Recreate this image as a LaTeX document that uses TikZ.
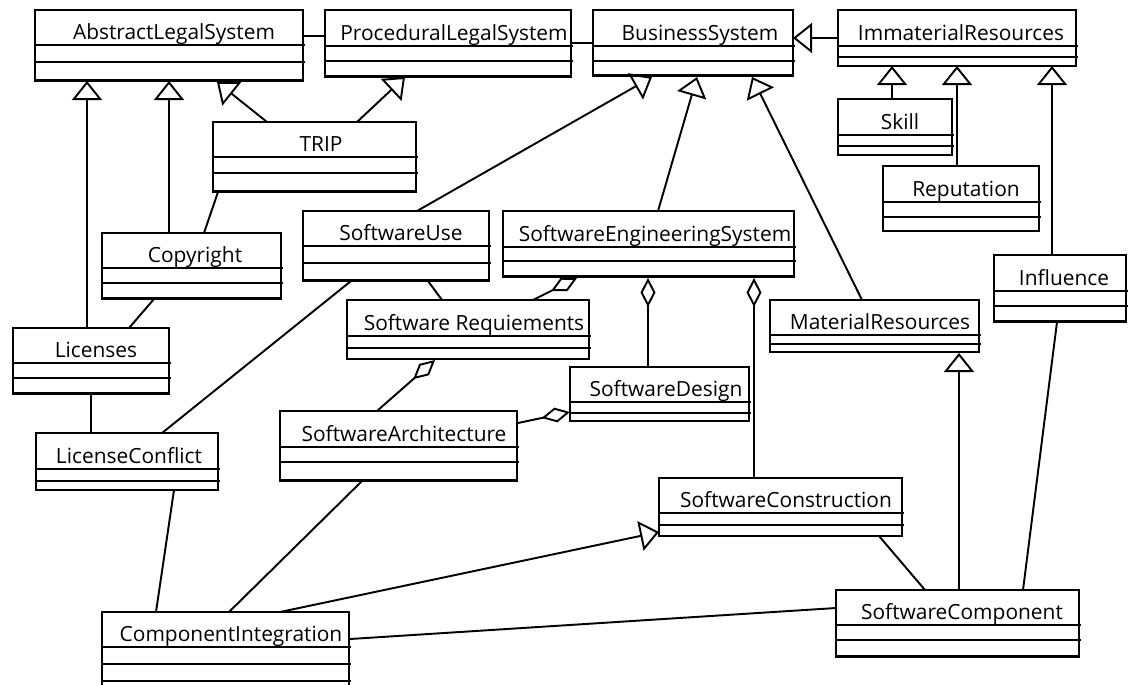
\documentclass[tikz,border=0pt]{standalone}
\usepackage{fontspec}
\setmainfont{Open Sans}
\usetikzlibrary{arrows.meta,calc}

\tikzset{
  x={(0.02cm,0)}, y={(0,-0.02cm)},
  cls/.style={draw, rectangle, line width=1.1pt, inner sep=0pt, outer sep=0pt, fill=white},
  part/.style={line width=1.1pt},
  thickbot/.style={line width=2.2pt},
  title/.style={font=\fontsize{11.9}{14}\selectfont, inner sep=0pt},
  link/.style={line width=1.1pt},
  gen/.style={link, -{Triangle[open, length=0.38cm, width=0.6cm]}},
  agg/.style={link, -{Diamond[open, length=0.58cm, width=0.3cm]}},
}

% \umlclass{name}{x1}{y1}{x2}{y2}{divider1}{divider2}{title x}{title}
\newcommand\umlclass[9]{%
  \node[cls, anchor=north west, minimum width={(#4-#2)*0.02cm}, minimum height={(#5-#3)*0.02cm}] (#1) at (#2,#3) {};
  \draw[part] (#2,#6) -- (#4+1.5,#6) (#2,#7) -- (#4+1.5,#7);
  \node[title, anchor=base] (#1-t) at (#8,#6-5.5) {#9};
}
\newcommand\heavybottom[1]{\draw[thickbot] ($(#1.south west)+(0,-0.5)$) -- ($(#1.south east)+(0,-0.5)$);}

\begin{document}
\begin{tikzpicture}
\useasboundingbox (0,0) rectangle (1128,684);

% classes
\umlclass{abs}{35}{10}{303}{81}{45}{62}{174}{AbstractLegalSystem}
\umlclass{proc}{325}{10}{571}{77}{46}{61}{454}{ProceduralLegalSystem}
\umlclass{bus}{593}{10}{793}{76}{46}{61}{700}{BusinessSystem}
\umlclass{imm}{838}{10}{1076}{66}{46}{57}{961}{ImmaterialResources}
\umlclass{skill}{838}{99}{952}{155}{135}{146}{900}{Skill}
\umlclass{rep}{883}{166}{1039}{231}{202}{217}{966}{Reputation}
\umlclass{trip}{213}{122}{416}{192}{157}{173}{321}{TRIP}
\umlclass{copy}{102}{233}{281}{299}{268}{283}{195}{Copyright}
\umlclass{lic}{13}{328}{169}{394}{363}{378}{96}{Licenses}
\umlclass{lc}{36}{433}{218}{490}{469}{481}{129}{LicenseConflict}
\umlclass{use}{303}{211}{489}{281}{246}{263}{401}{SoftwareUse}
\umlclass{ses}{503}{211}{794}{277}{247}{261}{655}{SoftwareEngineeringSystem}
\umlclass{req}{347}{300}{589}{359}{336}{348}{474}{Software Requiements}
\umlclass{des}{570}{367}{749}{421}{402}{413}{666}{SoftwareDesign}
\umlclass{arch}{280}{411}{517}{481}{447}{462}{404}{SoftwareArchitecture}
\umlclass{mat}{770}{300}{979}{352}{335}{344}{880}{MaterialResources}
\umlclass{con}{659}{478}{902}{536}{513}{525}{786}{SoftwareConstruction}
\umlclass{comp}{836}{590}{1079}{657}{625}{640}{962}{SoftwareComponent}
\umlclass{inf}{994}{255}{1126}{322}{291}{306}{1064}{Influence}
% this class runs on past the lower edge of the page
\umlclass{ci}{102}{612}{349}{700}{647}{664}{231}{ComponentIntegration}
\draw[part] ($(ci.north west)+(0,69)$) -- ($(ci.north east)+(1.5,69)$);

\foreach \c in {abs,proc,bus,trip,copy,lic,use,ses,arch,comp,inf} {\heavybottom{\c}}

% plain associations
\draw[link] ($(abs.north east)+(0,26)$) -- ($(proc.north west)+(0,26)$);
\draw[link] ($(proc.north east)+(0,33)$) -- ($(bus.north west)+(0,33)$);
\draw[link] ($(trip.south west)+(5,0)$) -- ($(copy.north west)+(102,0)$);
\draw[link] ($(copy.south west)+(52,0)$) -- ($(lic.north west)+(116,0)$);
\draw[link] ($(lic.south west)+(78,0)$) -- ($(lc.north west)+(55,0)$);
\draw[link] ($(use.south west)+(48,0)$) -- ($(lc.north west)+(126,0)$);
\draw[link] ($(use.south west)+(125,0)$) -- ($(req.north west)+(95,0)$);
\draw[link] ($(lc.south west)+(138,0)$) -- ($(ci.north west)+(54,0)$);
\draw[link] ($(arch.south west)+(82,0)$) -- ($(ci.north west)+(127,0)$);
\draw[link] ($(ci.north east)+(1,27)$) -- ($(comp.north west)+(0,18)$);
\draw[link] ($(con.south west)+(220,0)$) -- ($(comp.north west)+(89,0)$);
\draw[link] ($(inf.south west)+(63,0)$) -- ($(comp.north west)+(187,0)$);

% generalizations
\draw[gen] ($(imm.north west)+(0,28)$) -- ($(bus.north east)+(0,28)$);
\draw[gen] ($(skill.north west)+(54,0)$) -- ($(imm.south west)+(54,0)$);
\draw[gen] ($(rep.north west)+(74,0)$) -- ($(imm.south west)+(119,0)$);
\draw[gen] ($(inf.north west)+(58,0)$) -- ($(imm.south west)+(214,0)$);
\draw[gen] ($(trip.north west)+(54,0)$) -- ($(abs.south west)+(182,1)$);
\draw[gen] ($(trip.north west)+(144,0)$) -- ($(proc.south west)+(80,0)$);
\draw[gen] ($(copy.north west)+(67,0)$) -- ($(abs.south west)+(134,0)$);
\draw[gen] ($(lic.north west)+(74,0)$) -- ($(abs.south west)+(52,0)$);
\draw[gen] ($(use.north west)+(114,0)$) -- ($(bus.south west)+(59,1)$);
\draw[gen] ($(ses.north west)+(155,0)$) -- ($(bus.south west)+(104,1)$);
\draw[gen] ($(mat.north west)+(92,0)$) -- ($(bus.south west)+(159,1)$);
\draw[gen] ($(ci.north west)+(178,0)$) -- ($(con.north west)+(0,54)$);
\draw[gen] ($(comp.north west)+(123,0)$) -- ($(mat.south west)+(189,1)$);

% aggregations
\draw[agg] ($(req.north west)+(186,0)$) -- ($(ses.south west)+(74,1)$);
\draw[agg] ($(des.north west)+(78,0)$) -- ($(ses.south west)+(145,1)$);
\draw[agg] ($(con.north west)+(95,0)$) -- ($(ses.south west)+(251,1)$);
\draw[agg] ($(arch.north west)+(97,0)$) -- ($(req.south west)+(88,1)$);
\draw[agg] ($(arch.north east)+(1,12)$) -- ($(des.north west)+(0,45)$);
\end{tikzpicture}
\end{document}
